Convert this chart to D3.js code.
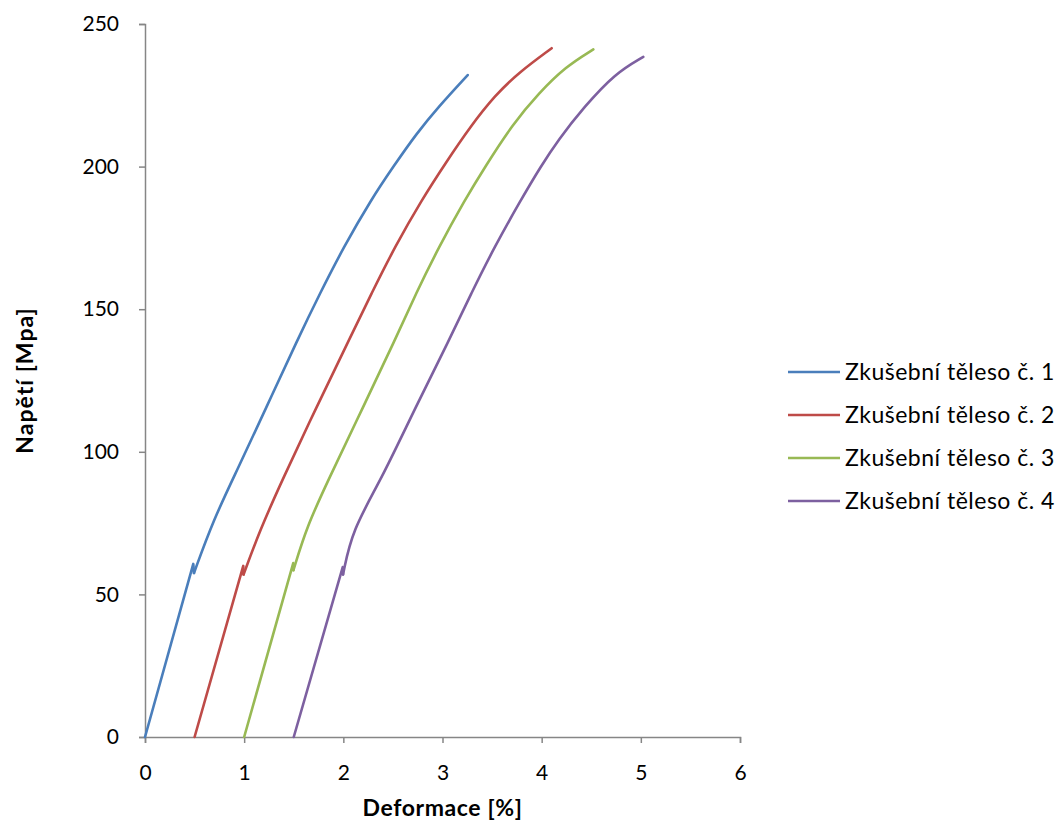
<!DOCTYPE html>
<html>
<head>
<meta charset="utf-8">
<script src="https://cdn.jsdelivr.net/npm/d3@7"></script>
<style>
    body { margin: 0; background: #fff; }
    text { font-family: Lato, "Open Sans", sans-serif; fill: #000; }
</style>
</head>
<body>
<svg id="chart"></svg>
<script>
// series names
const seriesNames = ['Zkušební těleso č. 1', 'Zkušební těleso č. 2', 'Zkušební těleso č. 3', 'Zkušební těleso č. 4'];

// deformation [%] and stress [MPa]
// (the small drop around 60 MPa is the kink in every specimen)
const deform1 = [0, 0.487, 0.494, 0.689, 0.930, 1.227, 1.536, 1.765, 2.005, 2.278, 2.504, 2.740, 2.960, 3.254];
const stress1 = [0, 60.7, 57.5, 76.1, 93.6, 115.8, 139.2, 155.6, 171.9, 188.3, 200.0, 211.7, 221.0, 232.1];

const deform2 = [0.5, 0.991, 0.994, 1.160, 1.384, 1.731, 2.057, 2.285, 2.520, 2.790, 3.030, 3.280, 3.530, 3.770, 4.101];
const stress2 = [0, 60.0, 57.0, 72.6, 90.1, 115.8, 139.2, 155.6, 171.9, 188.3, 201.2, 214.0, 225.0, 233.0, 241.5];

const deform3 = [1.0, 1.495, 1.497, 1.631, 1.848, 2.201, 2.521, 2.733, 2.965, 3.225, 3.430, 3.714, 3.970, 4.240, 4.521];
const stress3 = [0, 61.0, 58.5, 73.7, 90.1, 115.8, 139.2, 155.6, 171.9, 188.3, 200.0, 215.2, 225.7, 235.0, 241.1];

const deform4 = [1.5, 1.994, 1.997, 2.090, 2.380, 2.730, 3.068, 3.290, 3.525, 3.790, 3.990, 4.165, 4.430, 4.740, 5.025];
const stress4 = [0, 59.6, 57.0, 72.6, 90.1, 115.8, 139.2, 155.6, 171.9, 188.3, 200.0, 209.3, 221.0, 232.7, 238.5];

const xTicks = [0, 1, 2, 3, 4, 5, 6];
const yTicks = [0, 50, 100, 150, 200, 250];

const colors = ['#4a7ebb', '#be4b48', '#98b954', '#7d60a0'];

const width = 1061, height = 827;
const margin = { top: 24, right: 321, bottom: 90, left: 145 };

const series = [
    { name: seriesNames[0], x: deform1, y: stress1 },
    { name: seriesNames[1], x: deform2, y: stress2 },
    { name: seriesNames[2], x: deform3, y: stress3 },
    { name: seriesNames[3], x: deform4, y: stress4 }
].map(s => {
    const points = s.x.map((v, i) => [v, s.y[i]]);
    // split at the kink: the first point where stress drops
    let k = points.findIndex((p, i) => i > 0 && p[1] < points[i - 1][1]);
    if (k < 0) k = 1;
    return { name: s.name, elastic: points.slice(0, k + 1), rest: points.slice(k) };
});

const svg = d3.select('#chart')
    .attr('width', width)
    .attr('height', height);

const xScale = d3.scaleLinear()
    .domain([0, 6])
    .range([margin.left, width - margin.right]);

const yScale = d3.scaleLinear()
    .domain([0, 250])
    .range([height - margin.bottom, margin.top]);

const color = d3.scaleOrdinal()
    .domain(seriesNames)
    .range(colors);

// axes
const xAxis = svg.append('g')
    .attr('transform', `translate(0, ${yScale(0)})`)
    .call(d3.axisBottom(xScale).tickValues(xTicks).tickSize(6).tickPadding(22).tickFormat(d3.format('d')));

const yAxis = svg.append('g')
    .attr('transform', `translate(${xScale(0)}, 0)`)
    .call(d3.axisLeft(yScale).tickValues(yTicks).tickSize(6).tickPadding(20).tickFormat(d3.format('d')));

[xAxis, yAxis].forEach(ax => {
    ax.select('.domain').attr('stroke', '#868686').attr('stroke-width', 1.5);
    ax.selectAll('.tick line').attr('stroke', '#868686').attr('stroke-width', 1.5);
    ax.selectAll('.tick text')
        .style('font-family', 'Lato, sans-serif')
        .style('font-size', '21px')
        .attr('fill', '#000');
});
xAxis.selectAll('.tick text').attr('dy', '0.71em');

// lines: straight elastic part, smoothed curve after the kink
const lineStraight = d3.line()
    .x(d => xScale(d[0]))
    .y(d => yScale(d[1]));

const lineSmooth = d3.line()
    .x(d => xScale(d[0]))
    .y(d => yScale(d[1]))
    .curve(d3.curveBasis);

const lines = svg.append('g')
    .selectAll('g')
    .data(series)
    .join('g')
    .attr('fill', 'none')
    .attr('stroke', d => color(d.name))
    .attr('stroke-width', 2.6)
    .attr('stroke-linecap', 'round')
    .attr('stroke-linejoin', 'round');

lines.append('path').attr('d', d => lineStraight(d.elastic));
lines.append('path').attr('d', d => lineSmooth(d.rest));

// axis titles
svg.append('text')
    .attr('x', (xScale(0) + xScale(6)) / 2)
    .attr('y', 816)
    .attr('text-anchor', 'middle')
    .style('font-size', '23px')
    .style('font-weight', 'bold')
    .style('letter-spacing', '0.6px')
    .text('Deformace [%]');

svg.append('text')
    .attr('transform', `translate(33, ${(yScale(0) + yScale(250)) / 2}) rotate(-90)`)
    .attr('text-anchor', 'middle')
    .style('font-size', '23px')
    .style('font-weight', 'bold')
    .style('letter-spacing', '1px')
    .text('Napětí [Mpa]');

// legend
const legend = svg.append('g')
    .attr('transform', 'translate(788, 372)');

const item = legend.selectAll('g')
    .data(seriesNames)
    .join('g')
    .attr('transform', (d, i) => `translate(0, ${i * 43})`);

item.append('line')
    .attr('x1', 0).attr('x2', 52)
    .attr('stroke', d => color(d))
    .attr('stroke-width', 2.6);

item.append('text')
    .attr('x', 57)
    .attr('dy', '0.35em')
    .style('font-size', '23px')
    .style('letter-spacing', '0.5px')
    .text(d => d);
</script>
</body>
</html>
